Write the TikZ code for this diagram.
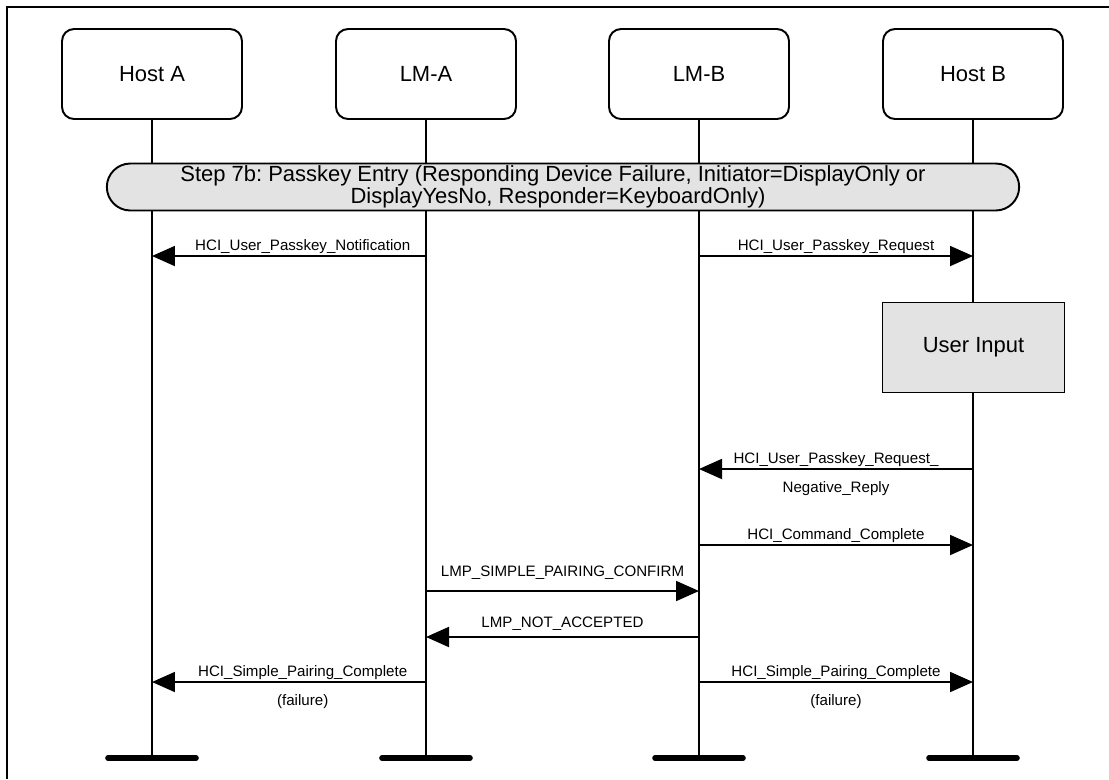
\documentclass[tikz,border=0pt]{standalone}
\usepackage{fontspec}
\setmainfont{Liberation Sans}
\usetikzlibrary{arrows.meta}
\frenchspacing
\tikzset{>={Triangle[length=0.46cm,width=0.40cm]}}
\colorlet{boxgray}{black!11}
\tikzstyle{entity}=[draw,line width=1.1pt,rounded corners=0.24cm,minimum width=3.6cm,minimum height=1.8cm,
  font=\fontsize{12.5}{15}\selectfont]
\tikzstyle{stepbox}=[draw,fill=boxgray,line width=1.1pt,rounded corners=0.47cm,minimum width=18.25cm,
  minimum height=0.94cm,align=center,inner sep=0pt,font=\fontsize{12.5}{10.2}\selectfont]
\tikzstyle{inputbox}=[draw,fill=boxgray,line width=1.1pt,minimum width=3.64cm,minimum height=1.8cm,
  font=\fontsize{12.5}{15}\selectfont]
\tikzstyle{lifeline}=[line width=1.1pt]
\tikzstyle{msg}=[->,line width=1.1pt]
\tikzstyle{lab}=[anchor=base,inner sep=0pt,font=\fontsize{8.6}{10}\selectfont]
\tikzstyle{labup}=[lab,yshift=0.12cm]
\tikzstyle{labdown}=[lab,yshift=-0.46cm]
\tikzstyle{endbar}=[line width=3.2pt,line cap=round]

\begin{document}
\begin{tikzpicture}[x=0.02cm,y=-0.02cm]
  \useasboundingbox (0,0) rectangle (1109,779);
  \draw[line width=1.1pt] (7,779) -- (7,7) -- (1109,7); % frame

  % entities
  \node[entity] (hostA) at (152,74) {Host A};
  \node[entity] (lmA) at (426,74) {LM-A};
  \node[entity] (lmB) at (699,74) {LM-B};
  \node[entity] (hostB) at (973,74) {Host B};

  % message rows
  \coordinate (bot) at (0,758);
  \coordinate (r1) at (0,256);
  \coordinate (r2) at (0,469);
  \coordinate (r3) at (0,545);
  \coordinate (r4) at (0,591);
  \coordinate (r5) at (0,637);
  \coordinate (r6) at (0,682);

  \foreach \n in {hostA,lmA,lmB,hostB} {
    \coordinate (\n-end) at (\n |- bot);
    \draw[lifeline] (\n.south) -- (\n-end);
    \draw[endbar] ([xshift=-0.88cm]\n-end) -- ([xshift=0.88cm]\n-end);
  }

  \node[stepbox] (step) at (563,187)
    {Step 7b: Passkey Entry (Responding Device Failure, Initiator=DisplayOnly or\hspace*{0.4cm}\\
     DisplayYesNo, Responder=KeyboardOnly)\hspace*{0.2cm}};
  \node[inputbox] (input) at (973.5,347.5) {User Input};

  \draw[msg] (lmA |- r1) -- (hostA |- r1) node[labup,pos=0.45] {HCI\_User\_Passkey\_Notification};
  \draw[msg] (lmB |- r1) -- (hostB |- r1) node[labup,midway] {HCI\_User\_Passkey\_Request};
  \draw[msg] (hostB |- r2) -- (lmB |- r2) node[labup,midway] {HCI\_User\_Passkey\_Request\_}
    node[labdown,midway] {Negative\_Reply};
  \draw[msg] (lmB |- r3) -- (hostB |- r3) node[labup,midway] {HCI\_Command\_Complete};
  \draw[msg] (lmA |- r4) -- (lmB |- r4) node[lab,midway,yshift=0.3cm] {LMP\_SIMPLE\_PAIRING\_CONFIRM};
  \draw[msg] (lmB |- r5) -- (lmA |- r5) node[lab,midway,yshift=0.2cm] {LMP\_NOT\_ACCEPTED};
  \draw[msg] (lmA |- r6) -- (hostA |- r6) node[labup,pos=0.45] {HCI\_Simple\_Pairing\_Complete}
    node[labdown,pos=0.45] {(failure)};
  \draw[msg] (lmB |- r6) -- (hostB |- r6) node[labup,midway] {HCI\_Simple\_Pairing\_Complete}
    node[labdown,midway] {(failure)};
\end{tikzpicture}
\end{document}
